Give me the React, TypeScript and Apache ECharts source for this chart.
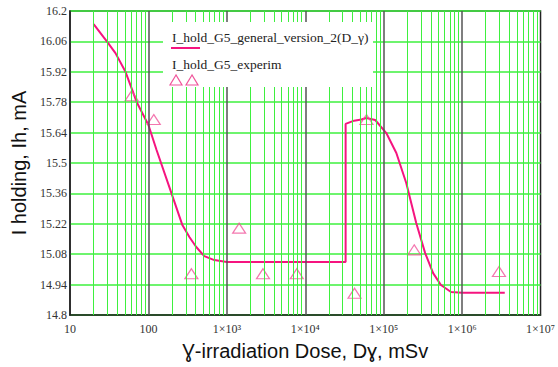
import React, { useEffect, useRef } from "react";
import * as echarts from "echarts";

// Model curve I_hold_G5_general_version_2(D_γ)
const curveDose = [20, 30, 38, 51, 71, 100, 127, 197, 271, 333, 407, 516, 692, 1000, 32700, 32700, 42000, 52000, 60000, 78000, 108000, 145000, 194000, 260000, 338000, 427000, 537000, 722000, 1000000, 3500000];
const curveVal = [16.14, 16.057, 16.006, 15.92, 15.78, 15.675, 15.56, 15.36, 15.214, 15.159, 15.113, 15.071, 15.053, 15.044, 15.044, 15.68, 15.695, 15.7, 15.707, 15.698, 15.638, 15.546, 15.408, 15.224, 15.085, 14.993, 14.938, 14.906, 14.903, 14.903];

// Experimental points I_hold_G5_experim
const expDose = [61, 117, 353, 1435, 2890, 7800, 42500, 60300, 245000, 2950000];
const expVal = [15.81, 15.7, 14.99, 15.2, 14.99, 14.99, 14.9, 15.7, 15.1, 15.0];

const Y_MIN = 14.8;
const Y_MAX = 16.2;
const Y_STEP = 0.14;
const X_MIN = 10;
const X_MAX = 1e7;

const LEGEND_NAMES = ["I_hold_G5_general_version_2(D_\u03b3)", "I_hold_G5_experim"];
const X_TITLE = "\u0194-irradiation Dose, D\u0263, mSv";
const Y_TITLE = "I holding, Ih, mA";

const PINK = "#f5147f";
const PINK_LIGHT = "#f0559b";
const GREEN = "#3ef03e";
const SERIF = "Liberation Serif";
const SANS = "Liberation Sans";

const SUP: Record<string, string> = { "0": "\u2070", "1": "\u00b9", "2": "\u00b2", "3": "\u00b3", "4": "\u2074", "5": "\u2075", "6": "\u2076", "7": "\u2077", "8": "\u2078", "9": "\u2079" };

export default function App() {
  const ref = useRef<HTMLDivElement>(null);
  useEffect(() => {
    if (!ref.current) return;
    const chart = echarts.init(ref.current, undefined, { renderer: "svg" });

    const minorLines: any[] = [];
    const majorLines: any[] = [];
    for (let d = X_MIN; d < X_MAX; d *= 10) {
      for (let k = 2; k <= 9; k++) minorLines.push({ xAxis: d * k });
      if (d > X_MIN) majorLines.push({ xAxis: d });
    }

    const curve = curveDose.map((d, i) => [d, curveVal[i] - Y_MIN]);
    const pts = expDose.map((d, i) => [d, expVal[i] - Y_MIN]);

    const Z = 100;
    chart.setOption({
      animation: false,
      backgroundColor: "#fff",
      grid: { left: 70, top: 11, right: 15, bottom: 52, show: true, borderColor: "#222", borderWidth: 1.5, backgroundColor: "#fff" },
      xAxis: {
        type: "log",
        logBase: 10,
        min: X_MIN,
        max: X_MAX,
        interval: 1,
        name: X_TITLE,
        nameLocation: "middle",
        nameGap: 26,
        nameTextStyle: { fontFamily: SANS, fontSize: 20, color: "#111" },
        axisLine: { show: true, lineStyle: { color: "#222", width: 1.5 } },
        axisTick: { show: false },
        splitLine: { show: false },
        axisLabel: {
          fontFamily: SERIF,
          fontSize: 12,
          color: "#333",
          margin: 8,
          showMaxLabel: true,
          hideOverlap: false,
          formatter: (v: number) => {
            const e = Math.round(Math.log10(v));
            if (e < 3) return String(Math.round(v));
            return "1\u00d710" + String(e).split("").map((c) => SUP[c]).join("");
          },
        },
      },
      yAxis: {
        type: "value",
        min: 0,
        max: Y_MAX - Y_MIN,
        interval: Y_STEP,
        name: Y_TITLE,
        nameLocation: "middle",
        nameGap: 38,
        nameTextStyle: { fontFamily: SANS, fontSize: 20, color: "#111" },
        axisLine: { show: true, lineStyle: { color: "#222", width: 1.5 } },
        axisTick: { show: false },
        splitLine: { show: true, lineStyle: { color: GREEN, width: 1.5 } },
        axisLabel: {
          fontFamily: SERIF,
          fontSize: 12,
          color: "#333",
          margin: 3,
          showMinLabel: true,
          showMaxLabel: true,
          formatter: (v: number) => String(Number((v + Y_MIN).toFixed(2))),
        },
      },
      series: [
        {
          type: "line",
          data: [],
          z: 1,
          silent: true,
          markLine: {
            silent: true,
            symbol: "none",
            label: { show: false },
            lineStyle: { color: GREEN, width: 1, type: "solid" },
            data: minorLines,
          },
        },
        {
          type: "line",
          data: [],
          z: 1,
          silent: true,
          markLine: {
            silent: true,
            symbol: "none",
            label: { show: false },
            lineStyle: { color: "#555", width: 1.5, type: "solid" },
            data: majorLines,
          },
        },
        {
          name: LEGEND_NAMES[0],
          type: "line",
          data: curve,
          z: 3,
          showSymbol: false,
          symbol: "none",
          lineStyle: { color: PINK, width: 2 },
        },
        {
          name: LEGEND_NAMES[1],
          type: "scatter",
          data: pts,
          z: 4,
          symbol: "triangle",
          symbolSize: [13, 10],
          itemStyle: { color: "rgba(255,255,255,0)", borderColor: PINK_LIGHT, borderWidth: 1.2 },
        },
      ],
      graphic: [
        { type: "rect", z: Z, shape: { x: 163, y: 22, width: 210, height: 65 }, style: { fill: "#ffffff" } },
        { type: "text", z: Z + 1, x: 172, y: 37, style: { text: LEGEND_NAMES[0], fontFamily: SERIF, fontSize: 13.5, fill: "#222", verticalAlign: "middle" } },
        { type: "line", z: Z + 1, shape: { x1: 171, y1: 48, x2: 200, y2: 48 }, style: { stroke: PINK, lineWidth: 2 } },
        { type: "text", z: Z + 1, x: 172, y: 64, style: { text: LEGEND_NAMES[1], fontFamily: SERIF, fontSize: 13.5, fill: "#222", verticalAlign: "middle" } },
        { type: "polygon", z: Z + 1, shape: { points: [[176, 75], [170, 85], [182, 85]] }, style: { fill: "none", stroke: PINK_LIGHT, lineWidth: 1.2 } },
        { type: "polygon", z: Z + 1, shape: { points: [[192, 75], [186, 85], [198, 85]] }, style: { fill: "none", stroke: PINK_LIGHT, lineWidth: 1.2 } },
      ],
    });
    return () => chart.dispose();
  }, []);
  return <div ref={ref} style={{ width: 558, height: 367, position: "absolute", left: 0, top: 0 }} />;
}
